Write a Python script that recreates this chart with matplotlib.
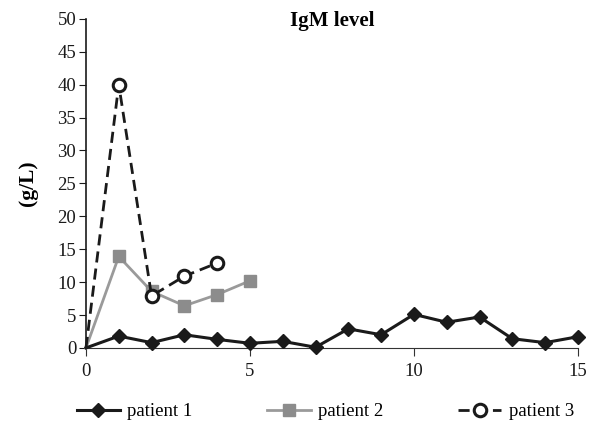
import matplotlib.pyplot as plt

plt.rcParams["font.family"] = ["Liberation Serif", "DejaVu Serif"]
plt.rcParams["font.size"] = 13.5

# data
x1 = list(range(16))
patient1 = [0, 1.8, 0.8, 2.0, 1.3, 0.7, 1.0, 0.1, 2.9, 2.0, 5.1, 3.9, 4.7, 1.4, 0.8, 1.7]
x2 = [0, 1, 2, 3, 4, 5]
patient2 = [0, 13.9, 8.6, 6.4, 8.1, 10.2]
x3 = [0, 1, 2, 3, 4]
patient3 = [0, 40, 7.9, 10.9, 12.9]

fig = plt.figure(figsize=(5.97, 4.29), dpi=100)
ax = fig.add_axes([0.144, 0.189, 0.824, 0.767])

# first point (0, 0) has no marker
ax.plot(x1, patient1, color="#1a1a1a", lw=2.2, marker="D", ms=7, markevery=list(range(1, len(x1))),
        mfc="#1a1a1a", mec="#1a1a1a", label="patient 1", clip_on=False, zorder=3)
ax.plot(x2, patient2, color="#9a9a9a", lw=2.0, marker="s", ms=9, markevery=list(range(1, len(x2))),
        mfc="#8c8c8c", mec="#8c8c8c", label="patient 2", clip_on=False, zorder=2)
ax.plot(x3, patient3, color="#1a1a1a", lw=2.0, ls=(0, (4, 2.2)), marker="o", ms=9,
        markevery=list(range(1, len(x3))),
        mfc="white", mec="#1a1a1a", mew=2.2, label="patient 3", clip_on=False, zorder=4)

ax.set_xlim(0, 15)
ax.set_ylim(0, 50)
ax.set_xticks([0, 5, 10, 15])
ax.set_yticks(range(0, 51, 5))
ax.spines["top"].set_visible(False)
ax.spines["right"].set_visible(False)
ax.spines["bottom"].set_color("#333333")
ax.spines["left"].set_color("#1a1a1a")
ax.spines["left"].set_linewidth(1.2)
ax.tick_params(axis="x", colors="#333333", labelcolor="#1a1a1a", length=6, pad=5)
ax.tick_params(axis="y", colors="#1a1a1a", length=5, pad=2)

ax.text(0.5, 0.995, "IgM level", transform=ax.transAxes, ha="center", va="center",
        fontweight="bold", fontsize=15)
ax.set_ylabel("(g/L)", fontweight="bold", fontsize=15.5, labelpad=14)

fig.legend(loc="center", ncol=3, frameon=False, bbox_to_anchor=(0.545, 0.04),
           handlelength=2.3, columnspacing=4.0, handletextpad=0.4)

fig.savefig("out.png", dpi=100)
